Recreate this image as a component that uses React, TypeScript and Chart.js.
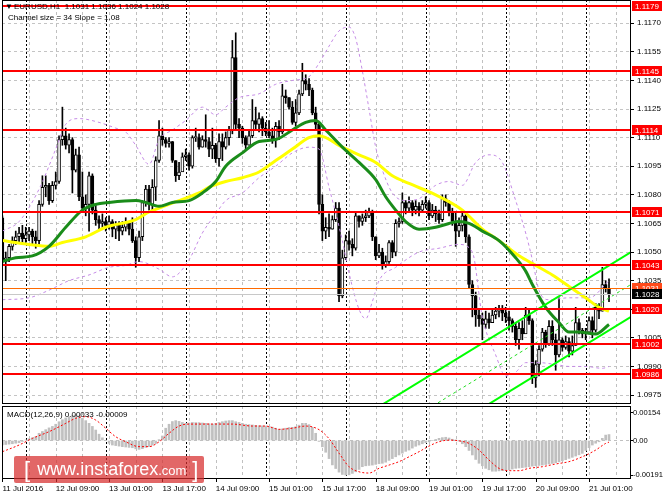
import React, { useEffect, useRef } from "react";
import { Chart, registerables } from "chart.js";

Chart.register(...registerables);

const FONT = '"Liberation Sans", Arial, Helvetica, sans-serif';

// ---- time axis (bar indexes, H1 bars) ----
const timeLabels = ["11 Jul 2016", "12 Jul 09:00", "13 Jul 01:00", "13 Jul 17:00", "14 Jul 09:00", "15 Jul 01:00", "15 Jul 17:00", "18 Jul 09:00", "19 Jul 01:00", "19 Jul 17:00", "20 Jul 09:00", "21 Jul 01:00"];
const timeLabelBars = [0, 16, 32, 48, 64, 80, 96, 112, 128, 144, 160, 176];
const gridBars = [8, 16, 24, 32, 40, 48, 56, 64, 72, 80, 88, 96, 104, 112, 120, 128, 136, 144, 152, 160, 168, 176, 184];
const daySeparatorBars = [7, 31, 55, 79, 103, 127, 151, 175];
const X_MIN = -0.12;
const X_MAX = 188.6;

// ---- price axis ----
const priceTicks = [1.0975, 1.099, 1.1005, 1.102, 1.1035, 1.105, 1.1065, 1.108, 1.1095, 1.111, 1.1125, 1.114, 1.1155, 1.117];
const PRICE_MIN = 1.09703;
const PRICE_MAX = 1.11822;

// ---- candles ----
const firstOpen = 1.1068;
const closes = [
  1.1045, 1.1047, 1.1053, 1.1056, 1.1058, 1.106, 1.1057, 1.1059, 1.1061, 1.1058,
  1.1056, 1.1075, 1.1084, 1.1085, 1.1077, 1.1085, 1.1087, 1.1109, 1.1111, 1.1106,
  1.1109, 1.1093, 1.1101, 1.1079, 1.1073, 1.1075, 1.109, 1.1072, 1.1067, 1.1065,
  1.1066, 1.1064, 1.1066, 1.1062, 1.1064, 1.1061, 1.1063, 1.1065, 1.1062, 1.1056,
  1.1047, 1.1058, 1.1076, 1.1083, 1.1075, 1.1084, 1.1098, 1.1111, 1.1109, 1.1107,
  1.1108, 1.1098, 1.109, 1.1092, 1.11, 1.1101, 1.1095, 1.111, 1.111, 1.1105,
  1.1109, 1.1108, 1.1104, 1.1106, 1.1099, 1.1108, 1.1105, 1.111, 1.1114, 1.1152,
  1.1117, 1.1115, 1.111, 1.1106, 1.1111, 1.1119, 1.1117, 1.112, 1.1115, 1.1113,
  1.1111, 1.1109, 1.1116, 1.1113, 1.1132, 1.1131, 1.1126, 1.1118, 1.1123, 1.1133,
  1.114, 1.1138, 1.1135, 1.1123, 1.1117, 1.1075, 1.1061, 1.1063, 1.1062, 1.1067,
  1.1073, 1.1027, 1.1047, 1.1056, 1.1054, 1.1052, 1.1069, 1.1066, 1.1068, 1.1069,
  1.1071, 1.1058, 1.1048, 1.105, 1.1043, 1.1045, 1.1055, 1.105, 1.1065, 1.1066,
  1.1076, 1.1073, 1.1076, 1.1072, 1.1074, 1.1072, 1.1075, 1.1076, 1.1069, 1.1072,
  1.107, 1.1067, 1.1078, 1.1076, 1.1071, 1.1066, 1.1061, 1.1064, 1.1069, 1.1058,
  1.1033, 1.1027, 1.1017, 1.1015, 1.1012, 1.1015, 1.1013, 1.1017, 1.1019, 1.102,
  1.1018, 1.1016, 1.1014, 1.1011, 1.1004, 1.101, 1.1007, 1.1017, 1.1014, 1.0984,
  1.0991, 1.0999, 1.1008, 1.1002, 1.1011, 1.1004, 1.0996, 1.1004, 1.1, 1.1003,
  1.0998, 1.1001, 1.1013, 1.1009, 1.1007, 1.1008, 1.1014, 1.1009, 1.1021, 1.1019,
  1.1033, 1.1031, 1.1028,
];
const highs = [
  1.1069, 1.105, 1.1054, 1.1058, 1.1061, 1.1063, 1.1064, 1.1063, 1.1063, 1.1062,
  1.1061, 1.1077, 1.109, 1.109, 1.1086, 1.1087, 1.1092, 1.1111, 1.1126, 1.1115,
  1.1112, 1.111, 1.1104, 1.1105, 1.1092, 1.108, 1.1092, 1.1091, 1.1075, 1.1069,
  1.107, 1.1068, 1.1069, 1.1067, 1.1066, 1.1066, 1.1066, 1.1068, 1.1066, 1.1068,
  1.1058, 1.1061, 1.1077, 1.1085, 1.1085, 1.1088, 1.11, 1.1119, 1.1115, 1.111,
  1.111, 1.1108, 1.1098, 1.1097, 1.1102, 1.1104, 1.1102, 1.1111, 1.1115, 1.1112,
  1.1111, 1.1122, 1.111, 1.1115, 1.1107, 1.1112, 1.1112, 1.1113, 1.1116, 1.1161,
  1.1165, 1.112, 1.1116, 1.1111, 1.1114, 1.113, 1.1126, 1.1123, 1.1121, 1.1118,
  1.1119, 1.1115, 1.1118, 1.1119, 1.1138, 1.1135, 1.1131, 1.1129, 1.113, 1.1135,
  1.1149, 1.1143, 1.1141, 1.1136, 1.1126, 1.1118, 1.108, 1.1068, 1.107, 1.1069,
  1.1076, 1.1076, 1.1051, 1.1059, 1.1061, 1.1057, 1.1071, 1.1069, 1.107, 1.1072,
  1.1073, 1.1072, 1.1058, 1.1054, 1.1052, 1.1048, 1.1056, 1.1056, 1.1067, 1.1068,
  1.1081, 1.1077, 1.1079, 1.1077, 1.1077, 1.1076, 1.1077, 1.1079, 1.1077, 1.1075,
  1.1074, 1.1072, 1.108, 1.108, 1.1077, 1.1073, 1.1071, 1.1068, 1.1072, 1.107,
  1.1059, 1.1035, 1.1029, 1.102, 1.1018, 1.1019, 1.1018, 1.102, 1.1021, 1.1022,
  1.1022, 1.1021, 1.1019, 1.1015, 1.1013, 1.1013, 1.1014, 1.1021, 1.102, 1.1015,
  1.0993, 1.1001, 1.101, 1.1009, 1.1014, 1.1014, 1.1007, 1.1026, 1.1005, 1.1006,
  1.1005, 1.1006, 1.1021, 1.1015, 1.101, 1.101, 1.1016, 1.1016, 1.1023, 1.1023,
  1.1042, 1.1035, 1.1036,
];
const lows = [
  1.1044, 1.1035, 1.1045, 1.1051, 1.1054, 1.1055, 1.1055, 1.1055, 1.1056, 1.1054,
  1.1052, 1.1054, 1.1074, 1.1079, 1.1075, 1.1076, 1.1083, 1.1086, 1.1106, 1.1104,
  1.1102, 1.1081, 1.1092, 1.1077, 1.1071, 1.1069, 1.1061, 1.107, 1.1064, 1.1062,
  1.1063, 1.1061, 1.1062, 1.1058, 1.1057, 1.1056, 1.1059, 1.1061, 1.1059, 1.1055,
  1.1042, 1.1045, 1.1056, 1.1074, 1.1072, 1.1071, 1.1077, 1.1097, 1.1106, 1.1105,
  1.1105, 1.1097, 1.1087, 1.1088, 1.1093, 1.1098, 1.1093, 1.1094, 1.1108, 1.1104,
  1.1105, 1.1105, 1.11, 1.1099, 1.1097, 1.1095, 1.1098, 1.1104, 1.1106, 1.1112,
  1.1114, 1.111, 1.1107, 1.1104, 1.1106, 1.111, 1.1114, 1.1113, 1.1111, 1.1111,
  1.111, 1.1107, 1.1105, 1.1109, 1.1112, 1.1128, 1.1125, 1.1117, 1.1116, 1.1122,
  1.1132, 1.1135, 1.1132, 1.1122, 1.1114, 1.107, 1.1056, 1.1057, 1.1058, 1.1062,
  1.1066, 1.1024, 1.1026, 1.1046, 1.1051, 1.1048, 1.1051, 1.1063, 1.1064, 1.1066,
  1.1068, 1.1056, 1.1046, 1.1047, 1.1041, 1.1042, 1.1044, 1.1047, 1.1048, 1.1063,
  1.1065, 1.107, 1.1071, 1.1069, 1.107, 1.1069, 1.1071, 1.1073, 1.1067, 1.1068,
  1.1066, 1.1065, 1.1066, 1.1074, 1.1069, 1.1064, 1.1053, 1.1058, 1.1061, 1.1055,
  1.1031, 1.1016, 1.1011, 1.1011, 1.1004, 1.101, 1.101, 1.1013, 1.1015, 1.1016,
  1.1014, 1.1013, 1.1009, 1.1008, 1.1001, 1.0999, 1.1004, 1.1009, 1.1012, 1.0981,
  1.0979, 1.0985, 1.0998, 1.1, 1.1001, 1.1001, 1.0988, 1.0995, 1.0998, 1.0999,
  1.0995, 1.0996, 1.1001, 1.1007, 1.1005, 1.1004, 1.1007, 1.1005, 1.1008, 1.1015,
  1.1019, 1.1029, 1.1024,
];

// ---- indicators (read at sample bars) ----
const yellowMaBars = [0, 8, 14, 18, 25, 31, 40, 44, 47, 53, 59, 62, 67, 72, 77, 82, 87, 92, 95, 102, 107, 112, 117, 122, 130, 138, 144, 149, 155, 160, 165, 170, 175, 179, 182];
const yellowMa = [1.1056, 1.1054, 1.1053, 1.1055, 1.1058, 1.1063, 1.1067, 1.1071, 1.1073, 1.1077, 1.1081, 1.1084, 1.1087, 1.1089, 1.1092, 1.1098, 1.1104, 1.111, 1.1111, 1.1105, 1.1101, 1.1097, 1.109, 1.1086, 1.108, 1.1072, 1.1062, 1.1056, 1.1048, 1.1043, 1.1038, 1.1032, 1.1026, 1.1021, 1.1019];

const greenMaBars = [0, 4, 9, 14, 19, 24, 28, 32, 40, 43, 47, 51, 56, 60, 64, 67, 72, 77, 82, 87, 91, 94, 97, 102, 107, 112, 115, 118, 121, 125, 130, 134, 137, 140, 144, 149, 154, 157, 159, 163, 167, 170, 173, 178, 182];
const greenMa = [1.1045, 1.1047, 1.1048, 1.1053, 1.1063, 1.1072, 1.1075, 1.1076, 1.1077, 1.1076, 1.1074, 1.1076, 1.1077, 1.1081, 1.1087, 1.1095, 1.1102, 1.1108, 1.1109, 1.1114, 1.1118, 1.1119, 1.1114, 1.1105, 1.1097, 1.1088, 1.1079, 1.1072, 1.1066, 1.1062, 1.1063, 1.1065, 1.1066, 1.1065, 1.1061, 1.1056, 1.1047, 1.104, 1.1033, 1.1021, 1.1013, 1.1008, 1.1008, 1.1007, 1.1012];

const bandUpperBars = [0, 5, 11, 16, 19, 23, 29, 34, 37, 40, 44, 47, 51, 55, 60, 64, 67, 71, 77, 82, 87, 92, 95, 98, 101, 104, 106, 108, 110, 112, 114, 117, 121, 125, 130, 134, 138, 142, 146, 150, 154, 157, 159, 161, 164, 170, 176, 182];
const bandUpper = [1.1061, 1.1066, 1.1083, 1.1104, 1.1117, 1.112, 1.1118, 1.1115, 1.1113, 1.1106, 1.1096, 1.1109, 1.1114, 1.1119, 1.1126, 1.1122, 1.1126, 1.1131, 1.1133, 1.1138, 1.114, 1.1142, 1.1149, 1.1158, 1.1166, 1.1168, 1.1162, 1.1145, 1.1125, 1.1105, 1.1093, 1.1081, 1.1077, 1.1078, 1.1085, 1.1087, 1.1085, 1.1097, 1.1101, 1.1097, 1.1077, 1.106, 1.1046, 1.103, 1.1025, 1.1026, 1.1026, 1.1035];

const bandLowerBars = [0, 8, 14, 20, 26, 32, 37, 41, 47, 51, 56, 60, 64, 67, 72, 77, 82, 87, 92, 95, 98, 102, 104, 107, 109, 111, 113, 118, 125, 131, 137, 141, 144, 148, 151, 154, 157, 161, 166, 170, 175, 180, 182];
const bandLower = [1.1025, 1.1026, 1.103, 1.1035, 1.1038, 1.1042, 1.1043, 1.1045, 1.1041, 1.1037, 1.1046, 1.106, 1.107, 1.1077, 1.1081, 1.1089, 1.1095, 1.1102, 1.1105, 1.1104, 1.1084, 1.1056, 1.1039, 1.102, 1.1015, 1.1024, 1.1035, 1.1042, 1.105, 1.1052, 1.1054, 1.105, 1.1016, 1.0996, 1.0985, 1.0987, 1.0992, 1.0992, 1.0991, 1.099, 1.099, 1.0989, 1.099];

// ---- channel object (size 34 pips, slope 1.08) ----
const channelBars = [100, 188.6];
const channelUpper = [1.0955, 1.105];
const channelMiddle = [1.0938, 1.1033];
const channelLower = [1.0921, 1.1016];

// ---- horizontal levels ----
const levelPrices = [1.1179, 1.1145, 1.1114, 1.1071, 1.1043, 1.102, 1.1002, 1.0986];
const askPrice = 1.1031;
const bidPrice = 1.1028;

// ---- MACD(12,26,9) ----
const macdHist = [
  -0.00025, -0.00022, -0.0002, -0.00018, -0.00015, -0.00012, -0.00005, 0.00003, 0.0001, 0.00015,
  0.00021, 0.0004, 0.0005, 0.0006, 0.0007, 0.00078, 0.0009, 0.00104, 0.00115, 0.00125,
  0.00132, 0.00138, 0.00141, 0.00136, 0.00123, 0.0011, 0.00095, 0.00078, 0.00058, 0.00035,
  0.00015, 0.0, -0.00015, -0.00025, -0.00028, -0.00031, -0.00034, -0.00036, -0.00038, -0.0004,
  -0.00046, -0.00049, -0.00045, -0.00038, -0.00034, -0.00025, -0.00016, 0.00005, 0.00025, 0.00068,
  0.0009, 0.00105, 0.0011, 0.00106, 0.001, 0.00095, 0.00097, 0.001, 0.00099, 0.00099,
  0.00097, 0.00095, 0.00093, 0.00091, 0.00095, 0.001, 0.00104, 0.00108, 0.0011, 0.0011,
  0.00104, 0.001, 0.00095, 0.0009, 0.00088, 0.00086, 0.00084, 0.00082, 0.00081, 0.0008,
  0.00078, 0.00074, 0.00068, 0.00062, 0.00064, 0.00068, 0.00072, 0.00073, 0.00076, 0.00085,
  0.00095, 0.00095, 0.00088, 0.00073, 0.0004, -0.00005, -0.00035, -0.00065, -0.001, -0.00135,
  -0.00155, -0.00175, -0.00188, -0.00191, -0.0019, -0.00182, -0.00173, -0.0016, -0.00145, -0.0014,
  -0.00138, -0.00136, -0.00132, -0.00128, -0.00126, -0.0012, -0.0011, -0.001, -0.0009, -0.0008,
  -0.0007, -0.0006, -0.00053, -0.00042, -0.00032, -0.00025, -0.00018, -0.00012, -0.00007, 0.0,
  0.00006, 0.00012, 0.00016, 0.00018, 0.00014, 0.00007, 0.00003, -0.00003, -0.00018, -0.00034,
  -0.00055, -0.0008, -0.00105, -0.00126, -0.0014, -0.00154, -0.00162, -0.0017, -0.0017, -0.00168,
  -0.00167, -0.00165, -0.00162, -0.00158, -0.00154, -0.00152, -0.0015, -0.00148, -0.00145, -0.00142,
  -0.0014, -0.00138, -0.00136, -0.00133, -0.0013, -0.00127, -0.00123, -0.00118, -0.00112, -0.00106,
  -0.00099, -0.00093, -0.00086, -0.00079, -0.00071, -0.00055, -0.0004, -0.00025, -0.00015, -0.00007,
  0.00012, 0.0003, 0.00033,
];
const signalBars = [0, 5, 9, 14, 19, 22, 25, 28, 31, 34, 37, 41, 44, 47, 50, 53, 56, 63, 69, 75, 79, 83, 87, 91, 95, 98, 101, 104, 107, 110, 113, 116, 119, 122, 125, 128, 131, 134, 137, 140, 143, 146, 149, 152, 155, 158, 162, 166, 170, 174, 178, 181, 182];
const signalValues = [-0.00062, -0.00025, 0.00012, 0.00049, 0.00095, 0.00123, 0.00132, 0.00113, 0.00068, 0.00021, -0.00007, -0.00034, -0.00034, -0.00007, 0.0004, 0.0008, 0.00091, 0.00091, 0.00091, 0.0008, 0.0008, 0.00062, 0.00068, 0.0008, 0.0006, 0.0001, -0.0007, -0.00145, -0.00173, -0.0018, -0.00154, -0.00136, -0.00117, -0.0009, -0.00062, -0.00031, -0.00007, 0.00002, -0.00002, -0.00016, -0.00053, -0.00108, -0.00154, -0.00167, -0.00167, -0.00154, -0.00145, -0.0013, -0.00117, -0.0009, -0.00053, -0.00016, -0.00009];
const macdTicks = [0.00154, 0, -0.00191];
const MACD_MIN = -0.00213;
const MACD_MAX = 0.00191;

// ---------------------------------------------------------------
const opens = closes.map((c, i) => (i === 0 ? firstOpen : closes[i - 1]));
const pts = (xs: number[], ys: number[]) => xs.map((x, i) => ({ x, y: ys[i] }));

function drawVerticalGrid(chart: any) {
  const { ctx, chartArea: a } = chart;
  const x = chart.scales.x;
  ctx.save();
  ctx.lineWidth = 1;
  ctx.strokeStyle = "#c0c0c0";
  ctx.setLineDash([3, 3]);
  for (const b of gridBars) {
    const px = Math.round(x.getPixelForValue(b)) + 0.5;
    if (px <= a.left + 1 || px >= a.right - 1) continue;
    ctx.beginPath();
    ctx.moveTo(px, a.top);
    ctx.lineTo(px, a.bottom);
    ctx.stroke();
  }
  ctx.strokeStyle = "#000";
  ctx.setLineDash([2, 2]);
  for (const b of daySeparatorBars) {
    const px = Math.round(x.getPixelForValue(b)) + 0.5;
    ctx.beginPath();
    ctx.moveTo(px, a.top);
    ctx.lineTo(px, a.bottom);
    ctx.stroke();
  }
  ctx.restore();
}

function drawFrame(chart: any) {
  const { ctx, chartArea: a } = chart;
  ctx.save();
  ctx.strokeStyle = "#000";
  ctx.lineWidth = 1;
  ctx.setLineDash([]);
  ctx.strokeRect(Math.round(a.left) + 0.5, Math.round(a.top) + 0.5, Math.round(a.width) - 1, Math.round(a.height) - 1);
  ctx.restore();
}

const mainDecor = {
  id: "mainDecor",
  beforeDatasetsDraw(chart: any) {
    drawVerticalGrid(chart);
  },
  afterDatasetsDraw(chart: any) {
    const { ctx, chartArea: a } = chart;
    const y = chart.scales.y;
    ctx.save();
    ctx.beginPath();
    ctx.rect(a.left, a.top, a.width, a.height);
    ctx.clip();
    ctx.fillStyle = "#c8c8c8";
    ctx.fillRect(a.left, Math.round(y.getPixelForValue(bidPrice)), a.width, 1);
    ctx.fillStyle = "#ff6a00";
    ctx.fillRect(a.left, Math.round(y.getPixelForValue(askPrice)), a.width, 1);
    ctx.fillStyle = "#ff0000";
    for (const p of levelPrices) {
      ctx.fillRect(a.left, Math.round(y.getPixelForValue(p)) - 1, a.width, 2);
    }
    ctx.restore();
  },
  afterDraw(chart: any) {
    const { ctx, chartArea: a } = chart;
    const y = chart.scales.y;
    drawFrame(chart);
    const boxL = Math.round(a.right) + 1;
    const boxW = 30;
    const label = (p: number, bg: string) => {
      const py = Math.round(y.getPixelForValue(p));
      ctx.fillStyle = bg;
      ctx.fillRect(boxL, py - 5, boxW, 10);
      ctx.fillStyle = "#fff";
      ctx.font = "8px " + FONT;
      ctx.textBaseline = "middle";
      ctx.textAlign = "left";
      ctx.fillText(p.toFixed(4), boxL + 3, py + 0.5);
    };
    ctx.save();
    for (const p of levelPrices) label(p, "#ff0000");
    label(askPrice, "#ff4a1a");
    label(bidPrice, "#000000");
    ctx.restore();
  },
};

const macdDecor = {
  id: "macdDecor",
  beforeDatasetsDraw(chart: any) {
    drawVerticalGrid(chart);
  },
  afterDraw(chart: any) {
    const { ctx, chartArea: a } = chart;
    const x = chart.scales.x;
    drawFrame(chart);
    ctx.save();
    ctx.strokeStyle = "#000";
    ctx.lineWidth = 1;
    for (const b of timeLabelBars) {
      const px = Math.round(x.getPixelForValue(b)) + 0.5;
      ctx.beginPath();
      ctx.moveTo(px, a.bottom);
      ctx.lineTo(px, a.bottom + 3);
      ctx.stroke();
    }
    ctx.restore();
  },
};

const tickFont = { family: FONT, size: 8 };

function mainConfig(): any {
  return {
    type: "bar",
    data: {
      datasets: [
        { type: "line", data: pts(channelBars, channelUpper), borderColor: "#00ff00", borderWidth: 2, pointRadius: 0, order: 0 },
        { type: "line", data: pts(channelBars, channelLower), borderColor: "#00ff00", borderWidth: 2, pointRadius: 0, order: 0 },
        { type: "line", data: pts(channelBars, channelMiddle), borderColor: "#22dd22", borderWidth: 1, borderDash: [3, 3], pointRadius: 0, order: 0 },
        { type: "line", data: pts(yellowMaBars, yellowMa), borderColor: "#ffff00", borderWidth: 3, pointRadius: 0, cubicInterpolationMode: "monotone", order: 2 },
        { type: "line", data: pts(greenMaBars, greenMa), borderColor: "#1a8c1a", borderWidth: 3, pointRadius: 0, cubicInterpolationMode: "monotone", order: 1 },
        { type: "line", data: pts(bandUpperBars, bandUpper), borderColor: "#c58be6", borderWidth: 1, borderDash: [3, 3], pointRadius: 0, cubicInterpolationMode: "monotone", order: 3 },
        { type: "line", data: pts(bandLowerBars, bandLower), borderColor: "#c58be6", borderWidth: 1, borderDash: [3, 3], pointRadius: 0, cubicInterpolationMode: "monotone", order: 3 },
        {
          type: "bar",
          data: closes.map((c, i) => ({ x: i, y: [opens[i], c] })),
          backgroundColor: closes.map((c, i) => (c >= opens[i] ? "#ffffff" : "#000000")),
          borderColor: "#000000",
          borderWidth: 1,
          borderSkipped: false,
          barThickness: 3,
          minBarLength: 1,
          grouped: false,
          order: 4,
        },
        {
          type: "bar",
          data: closes.map((_, i) => ({ x: i, y: [lows[i], highs[i]] })),
          backgroundColor: "#000000",
          borderWidth: 0,
          barThickness: 1,
          grouped: false,
          order: 5,
        },
      ],
    },
    options: {
      animation: false,
      responsive: true,
      maintainAspectRatio: false,
      events: [],
      layout: { padding: { left: 2, right: 0, top: 0, bottom: 1 } },
      plugins: { legend: { display: false }, tooltip: { enabled: false } },
      scales: {
        x: { type: "linear", min: X_MIN, max: X_MAX, offset: false, display: false, grid: { offset: false } },
        y: {
          position: "right",
          min: PRICE_MIN,
          max: PRICE_MAX,
          afterBuildTicks: (s: any) => {
            s.ticks = priceTicks.map((v) => ({ value: v }));
          },
          afterFit: (s: any) => {
            s.width = 33;
            s.paddingTop = 0;
            s.paddingBottom = 0;
          },
          ticks: { autoSkip: false, padding: 3, color: "#000", font: tickFont, callback: (v: any) => Number(v).toFixed(4) },
          grid: { color: "#c4c4c4", lineWidth: 1, tickLength: 3, tickColor: "#000", drawTicks: true },
          border: { display: false, dash: [3, 3] },
        },
      },
    },
    plugins: [mainDecor],
  };
}

function macdConfig(): any {
  return {
    type: "bar",
    data: {
      datasets: [
        { type: "line", data: pts(signalBars, signalValues), borderColor: "#ff0000", borderWidth: 1, borderDash: [2, 2], pointRadius: 0, cubicInterpolationMode: "monotone", order: 0 },
        {
          type: "bar",
          data: macdHist.map((v, i) => ({ x: i, y: v })),
          backgroundColor: "#c0c0c0",
          borderWidth: 0,
          barThickness: 2,
          grouped: false,
          order: 1,
        },
      ],
    },
    options: {
      animation: false,
      responsive: true,
      maintainAspectRatio: false,
      events: [],
      layout: { padding: { left: 2, right: 0, top: 1, bottom: 0 } },
      plugins: { legend: { display: false }, tooltip: { enabled: false } },
      scales: {
        x: {
          type: "linear",
          min: X_MIN,
          max: X_MAX,
          offset: false,
          afterBuildTicks: (s: any) => {
            s.ticks = timeLabelBars.map((v) => ({ value: v }));
          },
          afterFit: (s: any) => {
            s.height = 19;
            s.paddingLeft = 0;
            s.paddingRight = 0;
          },
          ticks: {
            autoSkip: false,
            maxRotation: 0,
            minRotation: 0,
            align: "start",
            padding: 5,
            color: "#000",
            font: tickFont,
            callback: (_v: any, i: number) => timeLabels[i] ?? "",
          },
          grid: { display: false, drawTicks: false, offset: false },
          border: { display: false },
        },
        y: {
          position: "right",
          min: MACD_MIN,
          max: MACD_MAX,
          afterBuildTicks: (s: any) => {
            s.ticks = macdTicks.map((v) => ({ value: v }));
          },
          afterFit: (s: any) => {
            s.width = 33;
            s.paddingTop = 0;
            s.paddingBottom = 0;
          },
          ticks: {
            autoSkip: false,
            padding: 0,
            color: "#000",
            font: { family: FONT, size: 7.6 },
            callback: (v: any) => (Number(v) === 0 ? "0.00" : Number(v).toFixed(5)),
          },
          grid: {
            color: (c: any) => (c.tick && c.tick.value === 0 ? "#c0c0c0" : "rgba(0,0,0,0)"),
            tickLength: 2,
            tickColor: "#000",
          },
          border: { display: false, dash: [3, 3] },
        },
      },
    },
    plugins: [macdDecor],
  };
}

const textStyle: React.CSSProperties = {
  position: "absolute",
  fontFamily: FONT,
  fontSize: 8,
  lineHeight: "10px",
  color: "#000",
  whiteSpace: "nowrap",
};

export default function App() {
  const mainRef = useRef<HTMLCanvasElement>(null);
  const macdRef = useRef<HTMLCanvasElement>(null);

  useEffect(() => {
    const c1 = new Chart(mainRef.current as HTMLCanvasElement, mainConfig());
    const c2 = new Chart(macdRef.current as HTMLCanvasElement, macdConfig());
    return () => {
      c1.destroy();
      c2.destroy();
    };
  }, []);

  return (
    <div style={{ position: "absolute", left: 0, top: 0, width: 664, height: 498, background: "#fff", overflow: "hidden" }}>
      <div style={{ position: "absolute", left: 0, top: 0, width: 664, height: 405 }}>
        <canvas ref={mainRef} />
      </div>
      <div style={{ position: "absolute", left: 0, top: 405, width: 664, height: 93 }}>
        <canvas ref={macdRef} />
      </div>
      <div style={{ ...textStyle, left: 5, top: 2 }}>▼</div>
      <div style={{ ...textStyle, left: 14, top: 2 }}>EURUSD,H1&nbsp; 1.1031 1.1036 1.1024 1.1028</div>
      <div style={{ ...textStyle, left: 8, top: 13 }}>Channel size = 34 Slope = 1.08</div>
      <div style={{ ...textStyle, left: 7, top: 410 }}>MACD(12,26,9) 0.00033 -0.00009</div>
      <div
        style={{
          position: "absolute",
          left: 14,
          top: 456,
          width: 190,
          height: 27,
          background: "rgba(215,45,45,0.72)",
          borderRadius: 2,
          color: "#fff",
          fontFamily: FONT,
          display: "flex",
          alignItems: "center",
          whiteSpace: "nowrap",
        }}
      >
        <span style={{ fontSize: 22, marginLeft: 10, lineHeight: "27px" }}>[</span>
        <span style={{ fontSize: 18, marginLeft: 7, lineHeight: "27px" }}>www.instaforex</span>
        <span style={{ fontSize: 13, lineHeight: "27px", marginTop: 2 }}>.com</span>
        <span style={{ fontSize: 22, marginLeft: 6, lineHeight: "27px" }}>]</span>
      </div>
    </div>
  );
}
